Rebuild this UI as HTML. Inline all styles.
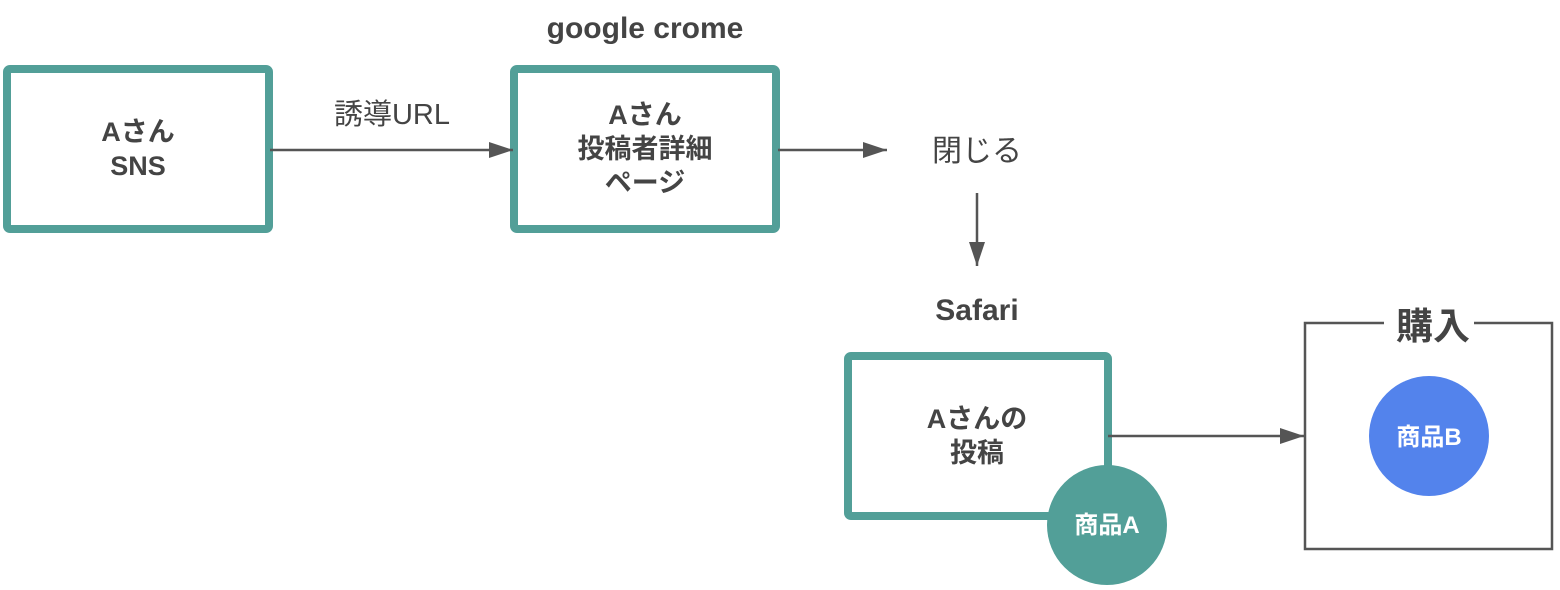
<!DOCTYPE html>
<html><head><meta charset="utf-8"><style>
html,body{margin:0;padding:0;background:#fff;}
svg{display:block;}
text{font-family:"Liberation Sans","Noto Sans CJK JP",sans-serif;fill:#444;}
.b{font-weight:bold;}
</style></head><body>
<svg width="1560" height="590" viewBox="0 0 1560 590" xmlns="http://www.w3.org/2000/svg">
<defs><marker id="ah" markerWidth="24" markerHeight="16" refX="24" refY="8" orient="auto" markerUnits="userSpaceOnUse"><path d="M0,0 L24,8 L0,16 z" fill="#555"/></marker></defs>
<g fill="none" stroke="#529f98" stroke-width="8" stroke-linejoin="round">
<rect x="7" y="69" width="262" height="160" rx="3"/>
<rect x="514" y="69" width="262" height="160" rx="3"/>
<rect x="848" y="356" width="260" height="160" rx="3"/>
</g>
<g stroke="#555" stroke-width="2.5">
<line x1="270" y1="150" x2="513" y2="150" marker-end="url(#ah)"/>
<line x1="778" y1="150" x2="887" y2="150" marker-end="url(#ah)"/>
<line x1="977" y1="193" x2="977" y2="266" marker-end="url(#ah)"/>
<line x1="1108" y1="436" x2="1304" y2="436" marker-end="url(#ah)"/>
</g>
<rect x="1305" y="323" width="247" height="226" fill="none" stroke="#555" stroke-width="2.5"/>
<rect x="1384" y="308" width="90" height="28" fill="#fff"/>
<text x="1433" y="339" text-anchor="middle" font-size="37" class="b">購入</text>
<circle cx="1107" cy="525" r="60" fill="#529f98"/>
<circle cx="1429" cy="436" r="60" fill="#5383ec"/>
<text x="1107" y="533" text-anchor="middle" font-size="24" class="b" style="fill:#fff">商品A</text>
<text x="1429" y="445" text-anchor="middle" font-size="24" class="b" style="fill:#fff">商品B</text>
<g font-size="27" class="b" text-anchor="middle">
<text x="138" y="141">Aさん</text>
<text x="138" y="175">SNS</text>
<text x="645" y="124">Aさん</text>
<text x="645" y="158">投稿者詳細</text>
<text x="645" y="192">ページ</text>
<text x="977" y="428">Aさんの</text>
<text x="977" y="462">投稿</text>
<text x="645" y="38" font-size="30">google crome</text>
<text x="977" y="320" font-size="30">Safari</text>
</g>
<text x="392" y="124" text-anchor="middle" font-size="29">誘導URL</text>
<text x="977" y="161" text-anchor="middle" font-size="30">閉じる</text>
</svg>
</body></html>
